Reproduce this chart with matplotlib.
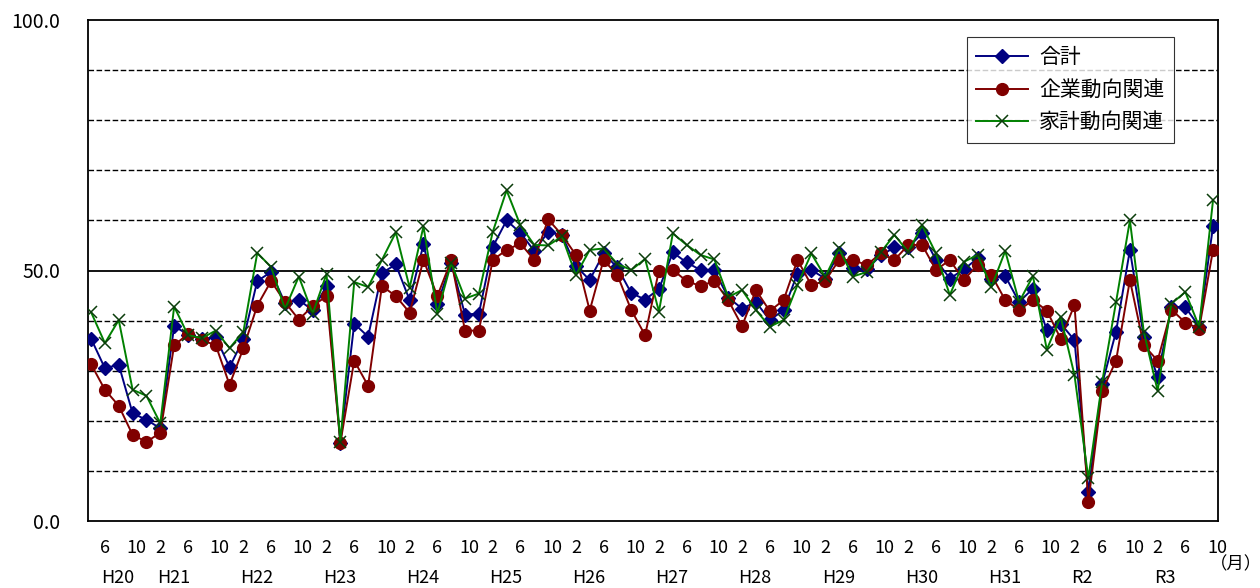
import matplotlib
matplotlib.use('Agg')
import matplotlib.pyplot as plt
from matplotlib.transforms import ScaledTranslation

plt.rcParams['font.family'] = ['Noto Sans CJK JP', 'DejaVu Sans']

# bimonthly survey months, Apr 2008 (H20) .. Oct 2021 (R3)
months = [4, 6, 8, 10, 12] + [2, 4, 6, 8, 10, 12] * 12 + [2, 4, 6, 8, 10]
year_labels = ['H20', 'H21', 'H22', 'H23', 'H24', 'H25', 'H26', 'H27',
               'H28', 'H29', 'H30', 'H31', 'R2', 'R3']

total = [36.4, 30.5, 31.2, 21.5, 20.2, 18.5, 38.9, 37.2, 36.3, 36.7,
         30.7, 36.3, 47.9, 49.7, 43.5, 44.1, 42.1, 46.9, 15.6, 39.4,
         36.8, 49.5, 51.2, 44.1, 55.2, 43.3, 51.5, 41.2, 41.4, 54.7,
         60.0, 57.5, 53.9, 57.7, 57.0, 50.9, 48.1, 53.4, 50.6, 45.5,
         44.2, 46.3, 53.6, 51.6, 50.1, 50.1, 44.6, 42.4, 43.7, 40.1,
         42.1, 49.4, 50.1, 48.4, 53.4, 50.4, 50.2, 53.0, 54.6, 54.6,
         57.4, 52.1, 48.4, 50.2, 52.4, 48.4, 48.9, 43.7, 46.4, 38.1,
         39.4, 36.1, 5.8, 27.4, 37.8, 54.1, 36.8, 28.8, 42.7, 42.7,
         38.8, 58.8]
kigyo = [31.3, 26.2, 23.0, 17.2, 15.8, 17.6, 35.1, 37.3, 36.1, 35.1,
         27.2, 34.5, 43.0, 47.9, 43.7, 40.2, 42.9, 44.9, 15.6, 32.0,
         27.0, 46.9, 44.9, 41.6, 52.1, 44.9, 52.0, 38.0, 38.0, 52.1,
         54.1, 55.4, 52.1, 60.2, 57.1, 53.1, 42.0, 52.1, 49.1, 42.1,
         37.1, 50.0, 50.1, 47.9, 46.9, 47.9, 44.1, 38.9, 46.1, 41.9,
         44.1, 52.1, 47.1, 47.9, 52.1, 52.1, 51.1, 53.4, 52.1, 55.1,
         55.1, 50.1, 52.1, 48.1, 51.1, 49.1, 44.1, 42.1, 44.1, 42.0,
         36.4, 43.1, 3.8, 26.0, 32.0, 48.1, 35.1, 32.0, 42.2, 39.6,
         38.4, 54.1]
kakei = [41.7, 35.5, 40.1, 26.2, 25.0, 19.5, 42.8, 37.1, 36.5, 38.0,
         34.5, 37.8, 53.5, 50.7, 42.3, 48.8, 41.4, 49.3, 15.8, 47.7,
         46.7, 52.1, 57.6, 46.6, 58.8, 41.4, 51.5, 44.4, 45.4, 57.7,
         66.0, 59.0, 55.1, 55.0, 56.8, 49.1, 54.1, 54.4, 51.3, 50.1,
         52.3, 41.8, 57.4, 55.1, 53.1, 52.2, 44.7, 46.1, 42.1, 38.8,
         40.1, 47.1, 53.4, 48.7, 54.4, 48.8, 49.7, 53.6, 57.1, 53.7,
         59.0, 53.4, 45.1, 51.7, 53.1, 46.7, 53.9, 43.7, 48.9, 34.2,
         40.8, 29.1, 8.5, 27.8, 43.7, 60.0, 37.8, 26.0, 43.4, 45.7,
         38.8, 64.0]

x = list(range(len(months)))

fig = plt.figure(figsize=(12.6, 5.88), dpi=100)
ax = fig.add_axes([88 / 1260, 1 - 521 / 588, 1130 / 1260, 501 / 588])

# horizontal guide lines
for v in [10, 20, 30, 40, 60, 70, 80, 90]:
    ax.axhline(v, color='black', lw=1.0, ls=(0, (4, 1.8)), zorder=1)
ax.axhline(50, color='black', lw=1.3, zorder=1)

ax.plot(x, total, color='#000080', lw=1.4, marker='D', ms=7,
        mfc='#000080', mec='#000080', label='合計', zorder=3)
ax.plot(x, kigyo, color='#800000', lw=1.4, marker='o', ms=8.5,
        mfc='#800000', mec='#800000', label='企業動向関連', zorder=4)
ax.plot(x, kakei, color='#008000', lw=1.4, marker='x', ms=8,
        mec='#0b3d0b', mew=1.1, label='家計動向関連', zorder=5)

ax.set_ylim(0, 100)
ax.set_xlim(-0.22, 81.36)
ax.set_yticks([0, 50, 100])
ax.set_yticklabels(['0.0', '50.0', '100.0'], fontsize=14)
ax.tick_params(axis='y', length=0, pad=20)

tick_pos = [i for i, m in enumerate(months) if m in (2, 6, 10)]
ax.set_xticks(tick_pos)
ax.set_xticklabels([str(months[i]) for i in tick_pos], fontsize=13)
ax.tick_params(axis='x', length=0, pad=13)
shift = ScaledTranslation(4 / 100, 0, fig.dpi_scale_trans)
for lab in ax.get_xticklabels():
    if lab.get_text() == '10':
        lab.set_transform(lab.get_transform() + shift)

# year labels, left aligned just before each year's first point
year_start = [1] + [i for i, m in enumerate(months) if m == 2]
for pos, name in zip(year_start, year_labels):
    ax.text(pos - 0.25, -0.114, name, transform=ax.get_xaxis_transform(),
            ha='left', va='center', fontsize=13)
ax.text(1236 / 1260, 1 - 564 / 588, '（月）', transform=fig.transFigure,
        ha='center', va='center', fontsize=12.5)

for s in ax.spines.values():
    s.set_color('black')
    s.set_linewidth(1.3)

leg = ax.legend(loc='upper left', bbox_to_anchor=((967 - 88) / 1130, (521 - 37) / 501),
                fontsize=15, frameon=True, fancybox=False, edgecolor='black',
                handlelength=2.5, labelspacing=0.5, borderpad=0.45,
                handletextpad=0.5, borderaxespad=0)
leg.get_frame().set_linewidth(0.8)

fig.savefig('out.png', dpi=100)
